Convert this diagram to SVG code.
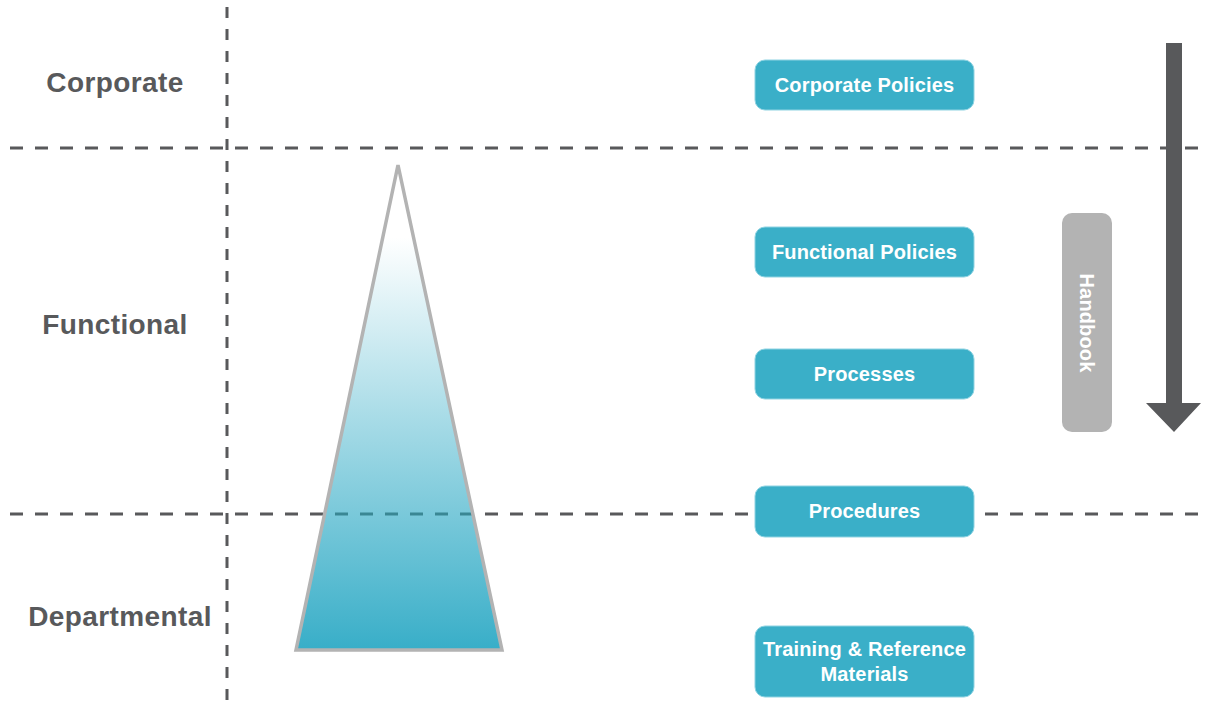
<svg xmlns="http://www.w3.org/2000/svg" width="1207" height="702" viewBox="0 0 1207 702">
<style>
.dash{stroke:#58595b;stroke-width:3;fill:none}
.lvl{font-family:"Liberation Sans",Arial,sans-serif;font-weight:bold;font-size:28px;letter-spacing:0.4px;fill:#58595b;text-anchor:middle}
.box{fill:#3aafc8;stroke:#8fd3e2;stroke-width:1}
.bt{font-family:"Liberation Sans",Arial,sans-serif;font-weight:bold;font-size:20px;letter-spacing:0.15px;fill:#ffffff;text-anchor:middle}
</style>
<defs>
<linearGradient id="tg" x1="0" y1="0" x2="0" y2="1">
<stop offset="0.15" stop-color="#ffffff"/>
<stop offset="1" stop-color="#38aec8"/>
</linearGradient>
<clipPath id="tc"><polygon points="398,165 296,650 502,650"/></clipPath>
</defs>
<rect width="1207" height="702" fill="#ffffff"/>
<g id="grid">
<line class="dash" x1="227" y1="7" x2="227" y2="702" stroke-dasharray="11 11"/>
<line class="dash" x1="10" y1="148" x2="1207" y2="148" stroke-dasharray="13 12"/>
<line class="dash" x1="10" y1="514" x2="1207" y2="514" stroke-dasharray="13 12"/>
</g>
<g id="labels">
<text class="lvl" x="115" y="92">Corporate</text>
<text class="lvl" x="115" y="334">Functional</text>
<text class="lvl" x="120" y="626">Departmental</text>
</g>
<g id="triangle">
<polygon points="398,165 296,650 502,650" fill="url(#tg)"/>
<line x1="310" y1="514" x2="510" y2="514" stroke="#3a8794" stroke-width="3" stroke-dasharray="13 12" clip-path="url(#tc)"/>
<polygon points="398,165 296,650 502,650" fill="none" stroke="#b3b3b3" stroke-width="3.5"/>
</g>
<g id="connectors">
<polygon points="1166,43 1182,43 1182,403 1201,403 1174,432 1146,403 1166,403" fill="#58595b"/>
</g>
<g id="handbook">
<rect x="1062" y="213" width="50" height="219" rx="10" fill="#b3b3b3"/>
<text class="bt" font-size="19" transform="translate(1080,323) rotate(90)">Handbook</text>
</g>
<g id="corporate-policies">
<rect class="box" x="755" y="60" width="219" height="50" rx="10"/>
<text class="bt" x="864.5" y="92">Corporate Policies</text>
</g>
<g id="functional-policies">
<rect class="box" x="755" y="227" width="219" height="50" rx="10"/>
<text class="bt" x="864.5" y="259">Functional Policies</text>
</g>
<g id="processes">
<rect class="box" x="755" y="349" width="219" height="50" rx="10"/>
<text class="bt" x="864.5" y="381">Processes</text>
</g>
<g id="procedures">
<rect class="box" x="755" y="486" width="219" height="51" rx="10"/>
<text class="bt" x="864.5" y="518">Procedures</text>
</g>
<g id="training">
<rect class="box" x="755" y="626" width="219" height="71" rx="10"/>
<text class="bt" x="864.5" y="656">Training &amp; Reference</text>
<text class="bt" x="864.5" y="681">Materials</text>
</g>
</svg>
